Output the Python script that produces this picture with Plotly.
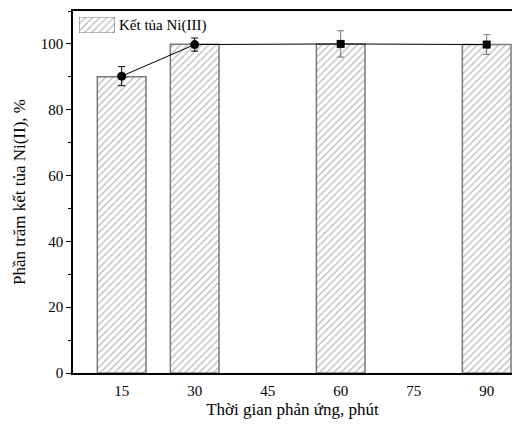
import plotly.graph_objects as go

times = [15, 30, 60, 90]
bar_values = [90.0, 99.9, 99.9, 99.8]
point_values = [90.2, 99.8, 100.0, 99.8]
errors = [2.9, 2.0, 4.0, 3.0]
x_ticks = [15, 30, 45, 60, 75, 90]
y_ticks = [0, 20, 40, 60, 80, 100]
legend_label = "Kết tủa Ni(III)"

FONT = "Liberation Serif"
GREY = "#7a7a7a"
hatch = dict(shape="/", fgcolor=GREY, bgcolor="white", size=5, solidity=0.28)

# plot area in figure pixels: left 65, right 504, top 3, bottom 365
PW, PH = 439, 362

fig = go.Figure()
fig.add_trace(go.Bar(
    x=times, y=bar_values, width=10, name=legend_label,
    marker=dict(color="white", line=dict(color=GREY, width=1.5), pattern=hatch),
    showlegend=False,
))
fig.add_trace(go.Scatter(
    x=times, y=point_values, mode="lines", line=dict(color="black", width=1),
    showlegend=False, hoverinfo="skip",
))
fig.add_trace(go.Scatter(
    x=times[:2], y=point_values[:2], mode="markers",
    marker=dict(color="black", size=9, symbol="circle"),
    error_y=dict(type="data", array=errors[:2], color="black", thickness=1, width=3.5),
    showlegend=False,
))
fig.add_trace(go.Scatter(
    x=times[2:], y=point_values[2:], mode="markers",
    marker=dict(color="black", size=8, symbol="square"),
    error_y=dict(type="data", array=errors[2:], color=GREY, thickness=1, width=3.5),
    showlegend=False,
))

# legend swatch drawn as an inset bar with the same hatch
fig.add_trace(go.Bar(
    x=[0], y=[1], width=1, xaxis="x2", yaxis="y2", cliponaxis=False,
    marker=dict(color="white", line=dict(color=GREY, width=1.2), pattern=hatch),
    showlegend=False, hoverinfo="skip",
))

fig.update_layout(
    width=504, height=411,
    margin=dict(l=65, r=0, t=3, b=46),
    paper_bgcolor="white", plot_bgcolor="white",
    font=dict(family=FONT, size=15, color="black"),
    showlegend=False,
    xaxis=dict(
        range=[5, 95.2], tickvals=x_ticks, ticktext=[str(v) for v in x_ticks],
        showgrid=False, zeroline=False, showline=True, linecolor="black", linewidth=1.5,
        mirror=True, ticks="", ticklabelstandoff=3, automargin=False,
        title=dict(text="Thời gian phản ứng, phút", font=dict(family=FONT, size=17), standoff=16),
    ),
    yaxis=dict(
        range=[0, 110], tickvals=y_ticks,
        showgrid=False, zeroline=False, showline=True, linecolor="black", linewidth=1.5,
        ticks="outside", ticklen=5, tickwidth=1.2, tickcolor="black", automargin=False,
        minor=dict(tickvals=[10, 30, 50, 70, 90, 110], ticks="outside", ticklen=3, tickwidth=1, tickcolor="black"),
        title=dict(text="Phần trăm kết tủa Ni(II), %", font=dict(family=FONT, size=17), standoff=11),
    ),
    xaxis2=dict(domain=[6 / PW, 42 / PW], range=[-0.5, 0.5], visible=False, fixedrange=True),
    yaxis2=dict(domain=[(365 - 25) / PH, (365 - 9) / PH], range=[0, 1], visible=False,
                anchor="x2", fixedrange=True),
    annotations=[dict(
        text=legend_label, xref="paper", yref="paper", x=(109 - 65) / PW, y=(365 - 17) / PH,
        xanchor="left", yanchor="middle", showarrow=False, font=dict(family=FONT, size=15),
    )],
)

fig.write_html("out.html")
